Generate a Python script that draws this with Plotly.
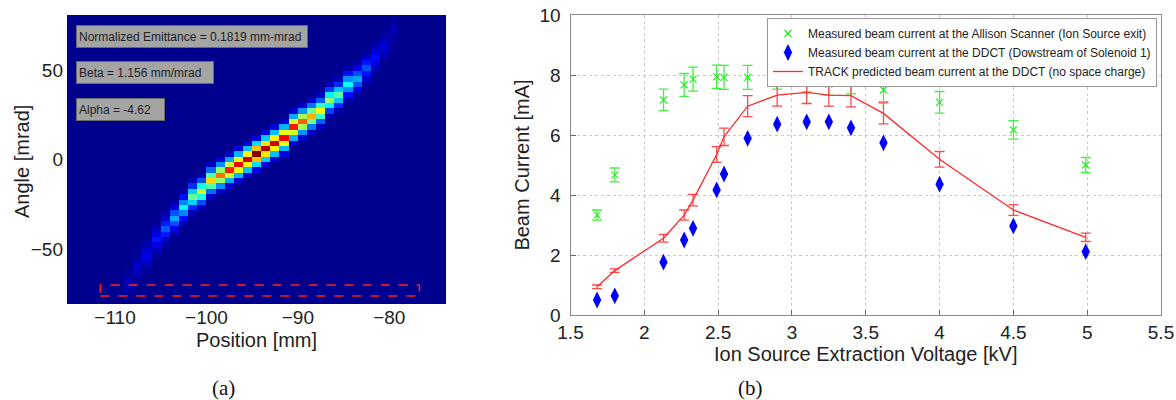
import numpy as np
import plotly.graph_objects as go

# ---------------- Panel (a): emittance scan ----------------
col_position = [-108.5, -107.5, -106.5, -105.5, -104.5, -103.5, -102.5, -101.5, -100.5, -99.5,
                -98.5, -97.5, -96.5, -95.5, -94.5, -93.5, -92.5, -91.5, -90.5, -89.5,
                -88.5, -87.5, -86.5, -85.5, -84.5, -83.5, -82.5, -81.5, -80.5, -79.5]
col_center_angle = [-68, -61, -54, -46, -39, -33, -27, -22, -17, -12.5,
                    -8.5, -5.5, -2.5, 0, 3, 6.5, 9.5, 13, 17, 20.5,
                    24, 28.5, 32.5, 36.5, 41, 46, 51, 57, 64, 72]
col_peak = [0.04, 0.06, 0.09, 0.13, 0.20, 0.28, 0.36, 0.47, 0.57, 0.66,
            0.76, 0.84, 0.88, 0.92, 1.00, 0.95, 0.92, 0.88, 0.85, 0.78,
            0.70, 0.62, 0.52, 0.45, 0.37, 0.28, 0.19, 0.12, 0.07, 0.04]
band_offsets = [-3, -2, -1, 0, 1, 2, 3]
band_profile = [0.08, 0.33, 0.68, 1.0, 0.68, 0.33, 0.08]

position_grid = np.arange(-115.5, -73.0, 1.0)
angle_step = 3.0
angle_grid = np.arange(-81.0, 81.5, angle_step)

z = np.zeros((len(angle_grid), len(position_grid)))
for xc, c, p in zip(col_position, col_center_angle, col_peak):
    j = int(round(xc - position_grid[0]))
    i0 = int(round((c - angle_grid[0]) / angle_step))
    for k, w in zip(band_offsets, band_profile):
        i = i0 + k
        if 0 <= i < len(angle_grid):
            z[i, j] = max(z[i, j], p * w)

info_texts = ["Normalized Emittance = 0.1819 mm-mrad", "Beta = 1.156 mm/mrad", "Alpha = -4.62"]

# ---------------- Panel (b): beam current vs extraction voltage ----------------
voltage = [1.68, 1.80, 2.13, 2.27, 2.33, 2.49, 2.54, 2.70, 2.90, 3.10, 3.25, 3.40, 3.62, 4.00, 4.50, 4.99]
allison = [3.33, 4.67, 7.17, 7.67, 7.86, 7.94, 7.92, 7.92, 7.91, 7.81, 7.70, 7.75, 7.50, 7.09, 6.17, 5.00]
allison_err = [0.17, 0.23, 0.36, 0.38, 0.40, 0.39, 0.40, 0.40, 0.38, 0.37, 0.37, 0.38, 0.39, 0.36, 0.31, 0.25]
ddct = [0.50, 0.64, 1.76, 2.50, 2.89, 4.17, 4.70, 5.89, 6.36, 6.44, 6.44, 6.24, 5.74, 4.36, 2.97, 2.11]
track = [0.94, 1.48, 2.56, 3.33, 3.83, 5.35, 5.94, 6.96, 7.33, 7.42, 7.33, 7.31, 6.72, 5.19, 3.50, 2.59]
track_err = [0.06, 0.06, 0.13, 0.17, 0.19, 0.26, 0.29, 0.35, 0.37, 0.37, 0.37, 0.37, 0.35, 0.26, 0.18, 0.14]

W, H = 1176, 400
jet = [[0.0, "rgb(0,0,143)"], [0.111, "rgb(0,0,255)"], [0.365, "rgb(0,255,255)"],
       [0.619, "rgb(255,255,0)"], [0.873, "rgb(255,0,0)"], [1.0, "rgb(128,0,0)"]]

fig = go.Figure()
fig.add_trace(go.Heatmap(x=position_grid, y=angle_grid, z=z, colorscale=jet, zmin=0, zmax=1,
                         showscale=False, xaxis="x", yaxis="y", hoverinfo="skip"))

fig.add_trace(go.Scatter(
    x=voltage, y=allison, mode="markers", xaxis="x2", yaxis="y2",
    name="Measured beam current at the Allison Scanner (Ion Source exit)",
    marker=dict(symbol="x-thin", size=7, line=dict(color="#22ee22", width=1.2), color="#22ee22"),
    error_y=dict(type="data", array=allison_err, color="#44ee44", thickness=1.3, width=5)))
fig.add_trace(go.Scatter(
    x=voltage, y=ddct, mode="markers", xaxis="x2", yaxis="y2",
    name="Measured beam current at the DDCT (Dowstream of Solenoid 1)",
    marker=dict(symbol="diamond-tall", size=12, color="#0000ff")))
fig.add_trace(go.Scatter(
    x=voltage, y=track, mode="lines", xaxis="x2", yaxis="y2",
    name="TRACK predicted beam current at the DDCT (no space charge)",
    line=dict(color="#ff2a2a", width=1.3),
    error_y=dict(type="data", array=track_err, color="#ff4a4a", thickness=1.3, width=5)))

axis_font = dict(family="Liberation Sans, Arial, sans-serif", size=19, color="#222")
title_font = dict(family="Liberation Sans, Arial, sans-serif", size=20, color="#222")

fig.update_layout(
    width=W, height=H, template="none",
    margin=dict(l=0, r=0, t=0, b=0),
    paper_bgcolor="white", plot_bgcolor="white",
    showlegend=True,
    legend=dict(x=1157 / W, y=1 - 18 / H, xanchor="right", yanchor="top",
                bgcolor="white", bordercolor="#999", borderwidth=1,
                font=dict(family="Liberation Sans, Arial, sans-serif", size=12, color="#222"),
                tracegroupgap=0, itemwidth=30),
    xaxis=dict(domain=[67 / W, 446 / W], range=[-115.25, -73.8], tickvals=[-110, -100, -90, -80],
               showgrid=False, zeroline=False, showline=False, ticks="", tickfont=axis_font,
               title=dict(text="Position [mm]", font=title_font, standoff=5), automargin=False),
    yaxis=dict(domain=[1 - 304 / H, 1 - 15 / H], range=[-80.7, 80.7], tickvals=[-50, 0, 50],
               showgrid=False, zeroline=False, showline=False, ticks="", tickfont=axis_font,
               ticklabelstandoff=3, automargin=False),
    xaxis2=dict(domain=[570.5 / W, 1161 / W], range=[1.5, 5.5], dtick=0.5, tick0=1.5, anchor="y2",
                showgrid=True, gridcolor="#c8c8c8", griddash="dot", zeroline=False,
                showline=True, linecolor="#8a8a8a", mirror=True, ticks="inside", ticklen=5,
                tickcolor="#666", tickfont=axis_font,
                title=dict(text="Ion Source Extraction Voltage [kV]", font=title_font, standoff=2),
                automargin=False),
    yaxis2=dict(domain=[1 - 315 / H, 1 - 15 / H], range=[0, 10], dtick=2, anchor="x2",
                showgrid=True, gridcolor="#c8c8c8", griddash="dot", zeroline=False,
                showline=True, linecolor="#8a8a8a", mirror=True, ticks="inside", ticklen=5,
                tickcolor="#666", tickfont=axis_font, ticklabelstandoff=5,
                title=dict(text="Beam Current [mA]", font=title_font, standoff=4),
                automargin=False),
)

# y-axis title of panel (a)
fig.add_annotation(xref="paper", yref="paper", x=22 / W, y=1 - 162 / H, text="Angle [mrad]",
                   textangle=-90, showarrow=False, font=title_font,
                   xanchor="center", yanchor="middle")

# red dashed selection box in panel (a)
fig.add_shape(type="rect", xref="x", yref="y", x0=-111.6, x1=-76.7, y0=-76.3, y1=-70.1,
              line=dict(color="#ff2020", width=1.5, dash="dash"))

# info boxes in panel (a)
box_tops = [25, 61, 98]
box_widths = [226, 132, 83]
for txt, top, bw in zip(info_texts, box_tops, box_widths):
    fig.add_annotation(xref="paper", yref="paper", x=76 / W, y=1 - top / H, xanchor="left",
                       yanchor="top", text=txt, showarrow=False, align="left", width=bw, height=17,
                       bgcolor="#a4a4a4", bordercolor="#6a6a6a", borderwidth=1, borderpad=2,
                       font=dict(family="Liberation Sans, Arial, sans-serif", size=12, color="#222"))

cap_font = dict(family="Liberation Serif, Times New Roman, serif", size=21, color="#111")
fig.add_annotation(xref="paper", yref="paper", x=223 / W, y=1 - 388 / H, text="(a)",
                   showarrow=False, font=cap_font, xanchor="center", yanchor="middle")
fig.add_annotation(xref="paper", yref="paper", x=750 / W, y=1 - 388 / H, text="(b)",
                   showarrow=False, font=cap_font, xanchor="center", yanchor="middle")

fig.write_html("out.html", config={"displayModeBar": False},
               post_script="document.body.style.margin='0';")
